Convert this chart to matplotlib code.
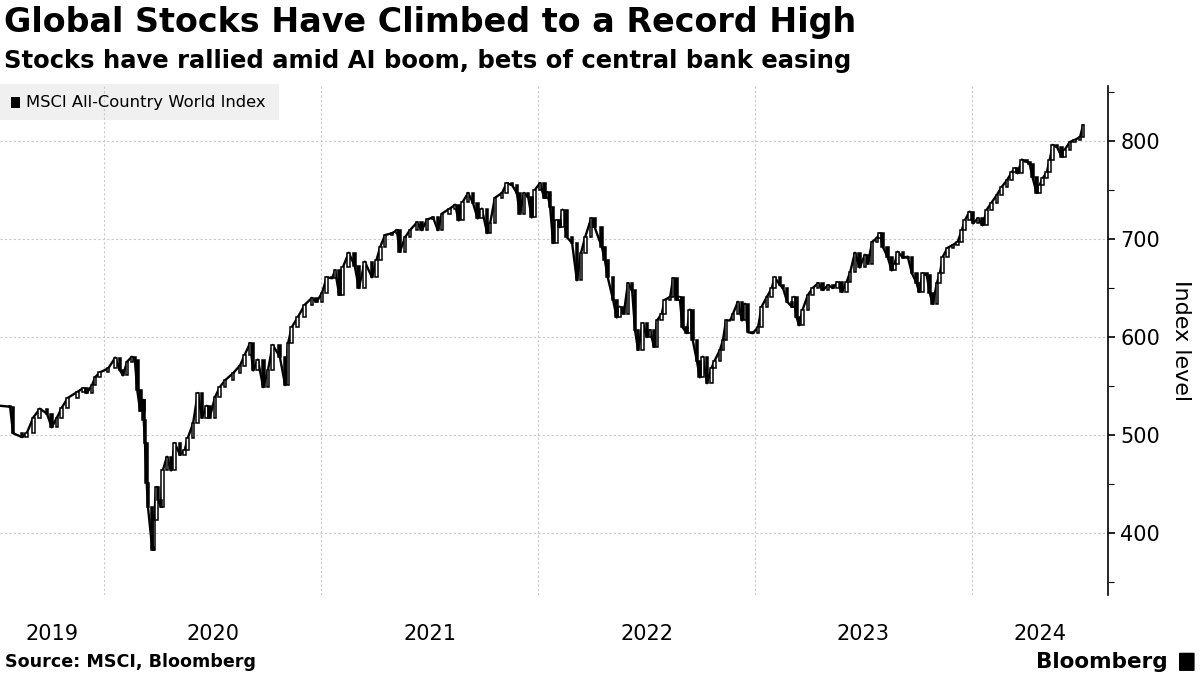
import numpy as np
import pandas as pd
import matplotlib
matplotlib.use("Agg")
import matplotlib.pyplot as plt
from matplotlib.patches import Rectangle, FancyBboxPatch

# MSCI ACWI level (roughly weekly)
dates = [
    "2019-07-10", "2019-07-27", "2019-08-01", "2019-08-16", "2019-08-24", "2019-09-04",
    "2019-09-15", "2019-09-27", "2019-10-05", "2019-10-14", "2019-10-22", "2019-11-01",
    "2019-11-17", "2019-11-27", "2019-12-03", "2019-12-12", "2019-12-17", "2019-12-25",
    "2020-01-08", "2020-01-20", "2020-01-28", "2020-02-02", "2020-02-09", "2020-02-17",
    "2020-02-22", "2020-02-26", "2020-03-02", "2020-03-07", "2020-03-08", "2020-03-10",
    "2020-03-13", "2020-03-15", "2020-03-22", "2020-03-23", "2020-03-25", "2020-03-29",
    "2020-04-01", "2020-04-06", "2020-04-09", "2020-04-16", "2020-04-23", "2020-04-29",
    "2020-05-08", "2020-05-16", "2020-05-21", "2020-05-30", "2020-06-07", "2020-06-14",
    "2020-06-22", "2020-06-27", "2020-07-06", "2020-07-14", "2020-07-23", "2020-08-05",
    "2020-08-17", "2020-08-25", "2020-09-03", "2020-09-08", "2020-09-16", "2020-09-25",
    "2020-10-03", "2020-10-11", "2020-10-23", "2020-11-01", "2020-11-06", "2020-11-12",
    "2020-11-22", "2020-12-04", "2020-12-16", "2020-12-24", "2021-01-02", "2021-01-10",
    "2021-01-19", "2021-01-24", "2021-01-31", "2021-02-06", "2021-02-16", "2021-02-26",
    "2021-03-05", "2021-03-15", "2021-03-27", "2021-04-04", "2021-04-10", "2021-04-18",
    "2021-04-30", "2021-05-08", "2021-05-13", "2021-05-22", "2021-05-30", "2021-06-11",
    "2021-06-19", "2021-06-28", "2021-07-08", "2021-07-16", "2021-07-23", "2021-08-05",
    "2021-08-14", "2021-08-20", "2021-08-27", "2021-09-05", "2021-09-13", "2021-09-21",
    "2021-09-28", "2021-10-07", "2021-10-12", "2021-10-20", "2021-11-01", "2021-11-09",
    "2021-11-18", "2021-11-26", "2021-12-01", "2021-12-08", "2021-12-15", "2021-12-21",
    "2021-12-26", "2022-01-04", "2022-01-11", "2022-01-16", "2022-01-21", "2022-01-26",
    "2022-02-01", "2022-02-06", "2022-02-11", "2022-02-18", "2022-02-27", "2022-03-07",
    "2022-03-14", "2022-03-21", "2022-03-31", "2022-04-06", "2022-04-18", "2022-04-23",
    "2022-04-28", "2022-05-07", "2022-05-13", "2022-05-18", "2022-05-25", "2022-06-01",
    "2022-06-08", "2022-06-13", "2022-06-18", "2022-06-26", "2022-07-03", "2022-07-08",
    "2022-07-15", "2022-07-20", "2022-07-28", "2022-08-02", "2022-08-11", "2022-08-16",
    "2022-08-22", "2022-08-27", "2022-09-01", "2022-09-08", "2022-09-13", "2022-09-18",
    "2022-09-25", "2022-09-30", "2022-10-05", "2022-10-12", "2022-10-20", "2022-10-25",
    "2022-11-03", "2022-11-08", "2022-11-13", "2022-11-20", "2022-11-25", "2022-12-03",
    "2022-12-10", "2022-12-15", "2022-12-20", "2022-12-28", "2023-01-06", "2023-01-12",
    "2023-01-21", "2023-01-29", "2023-02-03", "2023-02-12", "2023-02-17", "2023-02-24",
    "2023-03-04", "2023-03-07", "2023-03-12", "2023-03-16", "2023-03-22", "2023-03-31",
    "2023-04-08", "2023-04-17", "2023-04-25", "2023-05-04", "2023-05-12", "2023-05-20",
    "2023-05-27", "2023-06-04", "2023-06-10", "2023-06-18", "2023-06-26", "2023-07-05",
    "2023-07-10", "2023-07-17", "2023-07-25", "2023-07-30", "2023-08-04", "2023-08-12",
    "2023-08-19", "2023-08-24", "2023-08-29", "2023-09-07", "2023-09-15", "2023-09-22",
    "2023-09-30", "2023-10-04", "2023-10-10", "2023-10-17", "2023-10-22", "2023-10-27",
    "2023-11-03", "2023-11-08", "2023-11-13", "2023-11-21", "2023-11-30", "2023-12-08",
    "2023-12-15", "2023-12-20", "2023-12-28", "2024-01-03", "2024-01-11", "2024-01-19",
    "2024-01-26", "2024-02-03", "2024-02-12", "2024-02-20", "2024-02-29", "2024-03-08",
    "2024-03-13", "2024-03-18", "2024-03-25", "2024-04-02", "2024-04-07", "2024-04-12",
    "2024-04-19", "2024-04-24", "2024-04-29", "2024-05-06", "2024-05-11", "2024-05-16",
    "2024-05-23", "2024-05-31", "2024-06-05", "2024-06-14", "2024-06-22", "2024-07-01",
    "2024-07-06",
]
closes = [
    530, 529, 502, 498, 502, 518,
    527, 522, 508, 518, 528, 538,
    544, 548, 543, 551, 559, 564,
    568, 579, 566, 561, 575, 580,
    577, 546, 525, 536, 515, 492,
    451, 427, 386, 383, 413, 447,
    434, 427, 464, 478, 464, 492,
    480, 485, 497, 512, 543, 518,
    530, 518, 539, 549, 556, 563,
    571, 582, 594, 566, 577, 549,
    566, 592, 580, 551, 594, 610,
    620, 633, 640, 636, 645, 661,
    660, 668, 643, 671, 686, 673,
    650, 677, 661, 679, 692, 704,
    706, 709, 687, 702, 709, 717,
    709, 720, 722, 709, 726, 731,
    735, 719, 738, 747, 737, 721,
    731, 706, 716, 742, 747, 757,
    755, 747, 726, 747, 743, 722,
    750, 757, 742, 748, 733, 696,
    719, 712, 730, 702, 696, 658,
    686, 702, 721, 712, 692, 679,
    661, 638, 620, 631, 624, 655,
    648, 607, 587, 614, 600, 607,
    590, 617, 624, 638, 641, 660,
    638, 641, 610, 604, 628, 597,
    576, 559, 580, 553, 569, 576,
    587, 597, 617, 617, 624, 636,
    617, 634, 605, 604, 610, 631,
    641, 650, 661, 653, 650, 636,
    631, 641, 620, 612, 628, 643,
    650, 655, 648, 653, 650, 656,
    646, 656, 666, 686, 671, 684,
    675, 697, 701, 706, 692, 682,
    668, 675, 687, 681, 682, 665,
    655, 646, 665, 663, 645, 634,
    655, 665, 682, 691, 694, 697,
    709, 719, 728, 716, 721, 714,
    730, 737, 745, 753, 760, 768,
    772, 767, 781, 779, 777, 763,
    747, 755, 762, 768, 781, 796,
    794, 784, 791, 799, 801, 804,
    816,
]
years = [2019, 2020, 2021, 2022, 2023, 2024]
y_ticks = [400, 500, 600, 700, 800]

d = pd.to_datetime(dates)
c = np.array(closes, dtype=float)
o = np.r_[c[0], c[:-1]]
up = c >= o

x_start = pd.Timestamp("2019-07-10")
x_end = pd.Timestamp("2024-08-17")

fig = plt.figure(figsize=(12, 6.75), dpi=100)
ax = fig.add_axes([0.0, 0.1185, 0.9233, 0.754])
ax.patch.set_alpha(0)

ax.plot(d, c, color="black", lw=1.7, zorder=3)
ax.bar(d[up], c[up] - o[up], bottom=o[up], width=4.5, facecolor="white",
       edgecolor="black", linewidth=1.1, zorder=4)
ax.bar(d[~up], c[~up] - o[~up], bottom=o[~up], width=4.5, facecolor="black",
       edgecolor="black", linewidth=1.1, zorder=4)

ax.set_xlim(x_start, x_end)
ax.set_ylim(337, 856)

# y axis on the right
for s in ["left", "top", "bottom"]:
    ax.spines[s].set_visible(False)
ax.spines["right"].set_linewidth(1.2)
ax.yaxis.tick_right()
ax.yaxis.set_label_position("right")
ax.set_yticks(y_ticks)
ax.set_yticks([350, 450, 550, 650, 750, 850], minor=True)
ax.tick_params(axis="y", which="major", length=5, width=1.2, labelsize=15, pad=4)
ax.tick_params(axis="y", which="minor", length=4, width=0.8)
ax.set_ylabel("Index level", rotation=270, fontsize=16, labelpad=22)

# x: grid at year starts, labels centred in each year span
starts = [pd.Timestamp(f"{y}-01-01") for y in years[1:]]
edges = [x_start] + starts + [x_end]
centers = [edges[i] + (edges[i + 1] - edges[i]) / 2 for i in range(len(years))]
ax.set_xticks(starts)
ax.set_xticklabels([""] * len(starts))
ax.set_xticks(centers, minor=True)
ax.set_xticklabels([str(y) for y in years], minor=True)
ax.tick_params(axis="x", which="both", length=0, labelsize=15, pad=21)

ax.set_axisbelow(True)
ax.grid(True, which="major", color="#c8c8c8", linestyle=(0, (2, 2)), linewidth=0.8)

# legend box
ax.add_patch(Rectangle((0.0, 0.933), 0.252, 0.071, transform=ax.transAxes,
                       facecolor="#f0f0f0", edgecolor="none", zorder=0.3, clip_on=False))
ax.add_patch(Rectangle((0.0095, 0.957), 0.0085, 0.021, transform=ax.transAxes,
                       facecolor="black", edgecolor="none", zorder=5, clip_on=False))
ax.text(0.0235, 0.9686, "MSCI All-Country World Index", transform=ax.transAxes,
        fontsize=11.8, va="center", ha="left", zorder=5)

fig.text(0.003, 0.966, "Global Stocks Have Climbed to a Record High",
         fontsize=24, fontweight="bold", va="center", ha="left")
fig.text(0.003, 0.910, "Stocks have rallied amid AI boom, bets of central bank easing",
         fontsize=17.5, fontweight="bold", va="center", ha="left")
fig.text(0.004, 0.019, "Source: MSCI, Bloomberg", fontsize=12.6, fontweight="bold",
         va="center", ha="left")
fig.text(0.973, 0.019, "Bloomberg", fontsize=15.5, fontweight="bold", va="center", ha="right")
fig.patches.append(FancyBboxPatch((0.9835, 0.007), 0.011, 0.025, boxstyle="round,pad=0.001",
                                  transform=fig.transFigure, facecolor="black",
                                  edgecolor="none", figure=fig))

fig.savefig("out.png", dpi=100)
